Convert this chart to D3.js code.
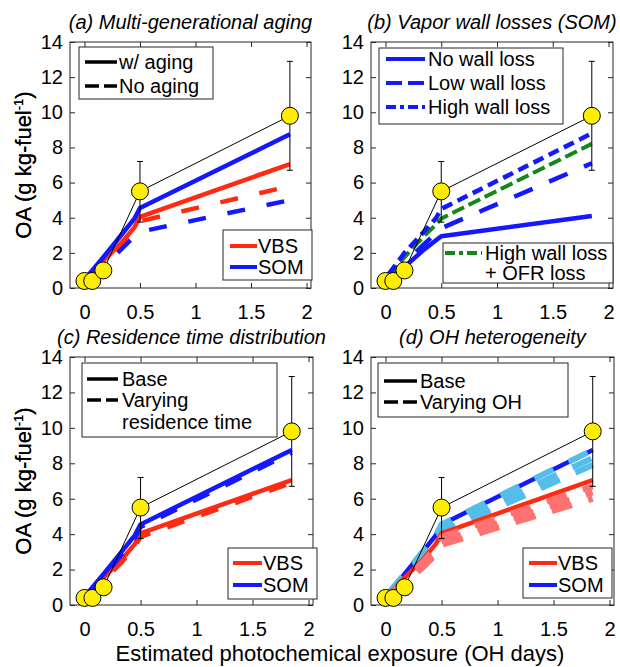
<!DOCTYPE html>
<html>
<head>
<meta charset="utf-8">
<script src="https://cdn.jsdelivr.net/npm/d3@7"></script>
<style>
  body { margin: 0; background: #fff; }
  svg { display: block; }
  text { font-family: "Liberation Sans", Arial, sans-serif; fill: #000; }
</style>
</head>
<body>
<svg id="chart" width="620" height="667"></svg>
<script>
// observations (yellow circles)
const obsX = [0, 0.07, 0.17, 0.5, 1.85];
const obsY = [0.4, 0.4, 1.0, 5.5, 9.8];
const errX = [0.5, 1.85];
const errLo = [3.75, 6.7];
const errHi = [7.2, 12.9];

// model exposure grid
const modelX = [0.03, 0.17, 0.33, 0.45, 0.5, 1.85];

// (a) aging
const vbsAging = [0.6, 1.55, 2.55, 3.45, 4.05, 7.05];
const somAging = [0.7, 1.75, 3.0, 3.95, 4.55, 8.75];
const vbsNoAging = [0.55, 1.45, 2.5, 3.4, 3.8, 5.8];
const somNoAging = [0.5, 1.2, 2.2, 2.95, 3.2, 5.0];

// (b) vapor wall losses, SOM
const somNoWall = [0.55, 1.2, 2.1, 2.7, 2.95, 4.1];
const somLowWall = [0.55, 1.4, 2.4, 3.1, 3.4, 7.1];
const somHighWall = [0.8, 2.0, 3.1, 3.95, 4.5, 8.8];
const somHighOFR = [0.7, 1.75, 2.85, 3.6, 3.95, 8.2];

// (c) residence time distribution
const vbsRes = [0.5, 1.4, 2.4, 3.3, 3.85, 6.9];
const somRes = [0.6, 1.6, 2.85, 3.8, 4.4, 8.6];

// (d) OH heterogeneity
const vbsOH = [
  [0.55, 1.45, 2.4, 3.25, 3.85, 6.7],
  [0.5, 1.35, 2.25, 3.05, 3.6, 6.35],
  [0.45, 1.25, 2.1, 2.85, 3.4, 6.0]
];
const somOH = [
  [0.7, 1.75, 3.0, 3.95, 4.55, 8.75],
  [0.65, 1.65, 2.85, 3.75, 4.3, 8.3],
  [0.6, 1.55, 2.7, 3.55, 4.1, 7.9]
];

const xTicks = [0, 0.5, 1, 1.5, 2];
const xTickLabels = ['0', '0.5', '1', '1.5', '2'];
const yTicks = [0, 2, 4, 6, 8, 10, 12, 14];

const RED = '#ff2a12', BLUE = '#1418ff', GREEN = '#14871a';
const LRED = '#ff7272', LBLUE = '#55bde9';
const AX = '#262626';

const svg = d3.select('#chart');

const panels = [
  {left: 70, right: 311, top: 42, bottom: 288, title: '(a) Multi-generational aging'},
  {left: 371, right: 613, top: 42, bottom: 288, title: '(b) Vapor wall losses (SOM)'},
  {left: 70, right: 313, top: 357, bottom: 605, title: '(c) Residence time distribution'},
  {left: 371, right: 614, top: 357, bottom: 605, title: '(d) OH heterogeneity'}
];

function setup(p) {
  const x = d3.scaleLinear().domain([-0.13, 2.04]).range([p.left, p.right]);
  const y = d3.scaleLinear().domain([0, 14]).range([p.bottom, p.top]);
  const g = svg.append('g');

  g.append('rect')
    .attr('x', p.left).attr('y', p.top)
    .attr('width', p.right - p.left).attr('height', p.bottom - p.top)
    .attr('fill', 'none').attr('stroke', AX).attr('stroke-width', 1);

  const fmt = (d, i) => xTickLabels[i];
  const ax = g.append('g').attr('transform', `translate(0,${p.bottom})`)
    .call(d3.axisBottom(x).tickValues(xTicks).tickFormat(fmt).tickSize(-5).tickSizeOuter(0).tickPadding(17));
  g.append('g').attr('transform', `translate(0,${p.top})`)
    .call(d3.axisTop(x).tickValues(xTicks).tickFormat('').tickSize(-5).tickSizeOuter(0));
  g.append('g').attr('transform', `translate(${p.left},0)`)
    .call(d3.axisLeft(y).tickValues(yTicks).tickSize(-5).tickSizeOuter(0).tickPadding(7));
  g.append('g').attr('transform', `translate(${p.right},0)`)
    .call(d3.axisRight(y).tickValues(yTicks).tickFormat('').tickSize(-5).tickSizeOuter(0));

  g.selectAll('.domain').remove();
  g.selectAll('.tick line').attr('stroke', AX);
  g.selectAll('.tick text').attr('font-size', 20).attr('fill', AX)
    .style('font-family', '"Liberation Sans", Arial, sans-serif');

  g.append('text')
    .attr('x', (p.left + p.right) / 2).attr('y', p.top - 13)
    .attr('text-anchor', 'middle').attr('font-size', 20).attr('font-style', 'italic')
    .text(p.title);

  const yl = g.append('text')
    .attr('transform', `translate(31,${(p.top + p.bottom) / 2}) rotate(-90)`)
    .attr('text-anchor', 'middle').attr('font-size', 22);
  yl.append('tspan').text('OA (g kg-fuel');
  yl.append('tspan').attr('font-size', 13).attr('dy', -8).text('-1');
  yl.append('tspan').attr('dy', 8).text(')');

  return {g, x, y};
}

function series(c, vals, color, width, dash) {
  const line = d3.line().x((d, i) => c.x(modelX[i])).y(d => c.y(d));
  c.g.append('path')
    .datum(vals)
    .attr('d', line)
    .attr('fill', 'none')
    .attr('stroke', color)
    .attr('stroke-width', width)
    .attr('stroke-dasharray', dash || null)
    .attr('stroke-linejoin', 'round');
}

function observations(c) {
  const line = d3.line().x((d, i) => c.x(obsX[i])).y(d => c.y(d));
  c.g.append('path').datum(obsY).attr('d', line)
    .attr('fill', 'none').attr('stroke', '#000').attr('stroke-width', 1);

  errX.forEach((ex, i) => {
    const xx = c.x(ex);
    c.g.append('line').attr('x1', xx).attr('x2', xx)
      .attr('y1', c.y(errLo[i])).attr('y2', c.y(errHi[i]))
      .attr('stroke', '#000').attr('stroke-width', 1);
    [errLo[i], errHi[i]].forEach(v => {
      c.g.append('line').attr('x1', xx - 3).attr('x2', xx + 3)
        .attr('y1', c.y(v)).attr('y2', c.y(v))
        .attr('stroke', '#000').attr('stroke-width', 1);
    });
  });

  c.g.selectAll('circle.obs')
    .data(obsY)
    .join('circle')
    .attr('class', 'obs')
    .attr('cx', (d, i) => c.x(obsX[i]))
    .attr('cy', d => c.y(d))
    .attr('r', 8.5)
    .attr('fill', '#ffee00')
    .attr('stroke', '#000')
    .attr('stroke-width', 1);
}

function legend(box, entries) {
  const g = svg.append('g');
  g.append('rect')
    .attr('x', box.x).attr('y', box.y).attr('width', box.w).attr('height', box.h)
    .attr('fill', '#fff').attr('stroke', AX).attr('stroke-width', 1);
  entries.forEach(e => {
    if (e.color) {
      g.append('line')
        .attr('x1', box.lx1).attr('x2', box.lx2)
        .attr('y1', e.y).attr('y2', e.y)
        .attr('stroke', e.color).attr('stroke-width', e.width || 4)
        .attr('stroke-dasharray', e.dash || null);
    }
    g.append('text')
      .attr('x', box.tx).attr('y', e.y + 7)
      .attr('font-size', 20)
      .text(e.text);
  });
}

// (a)
let c = setup(panels[0]);
series(c, vbsNoAging, RED, 4.5, '18,22');
series(c, somNoAging, BLUE, 4.5, '18,22');
series(c, vbsAging, RED, 4.5);
series(c, somAging, BLUE, 4.5);
observations(c);
legend({x: 79, y: 47, w: 134, h: 52, lx1: 85, lx2: 117, tx: 119}, [
  {y: 62, color: '#000', width: 3.5, text: 'w/ aging'},
  {y: 86, color: '#000', width: 3.5, dash: '14,5', text: 'No aging'}
]);
legend({x: 223, y: 230, w: 89, h: 50, lx1: 230, lx2: 257, tx: 258}, [
  {y: 246, color: RED, text: 'VBS'},
  {y: 267, color: BLUE, text: 'SOM'}
]);

// (b)
c = setup(panels[1]);
series(c, somNoWall, BLUE, 4.5);
series(c, somLowWall, BLUE, 4.5, '20,18');
series(c, somHighOFR, GREEN, 4, '13,5');
series(c, somHighWall, BLUE, 4.5, '11,6');
observations(c);
legend({x: 379, y: 48, w: 184, h: 76, lx1: 386, lx2: 425, tx: 428}, [
  {y: 59, color: BLUE, text: 'No wall loss'},
  {y: 83, color: BLUE, dash: '16,6', text: 'Low wall loss'},
  {y: 107, color: BLUE, dash: '10,4,4,4', text: 'High wall loss'}
]);
legend({x: 443, y: 243, w: 170, h: 40, lx1: 445, lx2: 482, tx: 485}, [
  {y: 253, color: GREEN, dash: '10,4,4,4', text: 'High wall loss'},
  {y: 273, text: '+ OFR loss'}
]);

// (c)
c = setup(panels[2]);
series(c, vbsAging, RED, 4.5);
series(c, somAging, BLUE, 4.5);
series(c, vbsRes, RED, 4.5, '18,18');
series(c, somRes, BLUE, 4.5, '18,18');
observations(c);
legend({x: 82, y: 363, w: 195, h: 74, lx1: 87, lx2: 118, tx: 122}, [
  {y: 379, color: '#000', width: 3.5, text: 'Base'},
  {y: 400, color: '#000', width: 3.5, dash: '14,5', text: 'Varying'},
  {y: 422, text: 'residence time'}
]);
legend({x: 228, y: 548, w: 89, h: 51, lx1: 233, lx2: 262, tx: 263}, [
  {y: 563, color: RED, text: 'VBS'},
  {y: 585, color: BLUE, text: 'SOM'}
]);

// (d)
c = setup(panels[3]);
series(c, somAging, BLUE, 4.5);
somOH.slice().reverse().forEach(v => series(c, v, LBLUE, 6, '21,17'));
series(c, vbsAging, RED, 4.5);
vbsOH.slice().reverse().forEach(v => series(c, v, LRED, 6, '21,17'));
observations(c);
legend({x: 378, y: 363, w: 190, h: 54, lx1: 384, lx2: 417, tx: 420}, [
  {y: 381, color: '#000', width: 3.5, text: 'Base'},
  {y: 402, color: '#000', width: 3.5, dash: '14,5', text: 'Varying OH'}
]);
legend({x: 523, y: 548, w: 89, h: 50, lx1: 529, lx2: 557, tx: 558}, [
  {y: 563, color: RED, text: 'VBS'},
  {y: 585, color: BLUE, text: 'SOM'}
]);

// shared x label
svg.append('text')
  .attr('x', 340).attr('y', 661)
  .attr('text-anchor', 'middle').attr('font-size', 22)
  .text('Estimated photochemical exposure (OH days)');
</script>
</body>
</html>
